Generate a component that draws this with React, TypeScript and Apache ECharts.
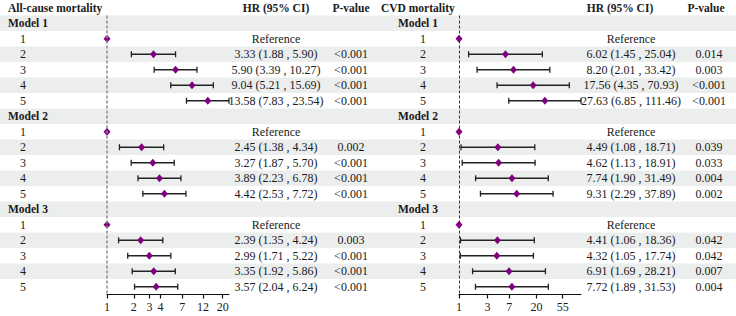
import React, { useEffect, useRef } from "react";
import * as echarts from "echarts";

// Hazard ratios by exposure group (1 = reference) for each adjustment model
const modelNames = ["Model 1", "Model 2", "Model 3"];
const groupLabels = ["1", "2", "3", "4", "5"];

const allCauseHR = [
  [1, 3.33, 5.9, 9.04, 13.58],
  [1, 2.45, 3.27, 3.89, 4.42],
  [1, 2.39, 2.99, 3.35, 3.57],
];
const allCauseLower = [
  [null, 1.88, 3.39, 5.21, 7.83],
  [null, 1.38, 1.87, 2.23, 2.53],
  [null, 1.35, 1.71, 1.92, 2.04],
];
const allCauseUpper = [
  [null, 5.9, 10.27, 15.69, 23.54],
  [null, 4.34, 5.7, 6.78, 7.72],
  [null, 4.24, 5.22, 5.86, 6.24],
];
const allCauseP = [
  ["", "<0.001", "<0.001", "<0.001", "<0.001"],
  ["", "0.002", "<0.001", "<0.001", "<0.001"],
  ["", "0.003", "<0.001", "<0.001", "<0.001"],
];

const cvdHR = [
  [1, 6.02, 8.2, 17.56, 27.63],
  [1, 4.49, 4.62, 7.74, 9.31],
  [1, 4.41, 4.32, 6.91, 7.72],
];
const cvdLower = [
  [null, 1.45, 2.01, 4.35, 6.85],
  [null, 1.08, 1.13, 1.9, 2.29],
  [null, 1.06, 1.05, 1.69, 1.89],
];
const cvdUpper = [
  [null, 25.04, 33.42, 70.93, 111.46],
  [null, 18.71, 18.91, 31.49, 37.89],
  [null, 18.36, 17.74, 28.21, 31.53],
];
const cvdP = [
  ["", "0.014", "0.003", "<0.001", "<0.001"],
  ["", "0.039", "0.033", "0.004", "0.002"],
  ["", "0.042", "0.042", "0.007", "0.004"],
];

const allCauseTicks = [1, 2, 3, 4, 7, 12, 20];
const cvdTicks = [1, 3, 7, 20, 55];

const FONT = '"Liberation Serif", "Times New Roman", serif';
const TEXT_COLOR = "#1a1a1a";
const STRIPE = "#eceeee";
const POINT_COLOR = "#800080";
const WIDTH = 736;
const ROW_COUNT = 19; // header + 3 × (model row + 5 groups)

type Cell = { x: number; row: number; text: string; align: string; bold?: boolean };

const rowOf = (m: number, k: number) => 2 + m * 6 + k;
const modelRow = (m: number) => 1 + m * 6;
const fmt = (v: number) => v.toFixed(2);

function buildPanel(
  hr: number[][],
  lo: (number | null)[][],
  hi: (number | null)[][],
  p: string[][],
  cols: { title: number; model: number; group: number; hr: number; hrHead: number; p: number; pHead: number },
  title: string
) {
  const cells: Cell[] = [
    { x: cols.title, row: 0, text: title, align: "left", bold: true },
    { x: cols.hrHead, row: 0, text: "HR (95% CI)", align: "center", bold: true },
    { x: cols.pHead, row: 0, text: "P-value", align: "center", bold: true },
  ];
  const points: number[][] = [];
  const ci: number[][] = [];
  modelNames.forEach((name, m) => {
    cells.push({ x: cols.model, row: modelRow(m), text: name, align: "left", bold: true });
    groupLabels.forEach((g, k) => {
      const r = rowOf(m, k);
      cells.push({ x: cols.group, row: r, text: g, align: "center" });
      const l = lo[m][k];
      const h = hi[m][k];
      const txt = l == null || h == null ? "Reference" : `${fmt(hr[m][k])} (${fmt(l)} , ${fmt(h)})`;
      cells.push({ x: cols.hr, row: r, text: txt, align: "center" });
      if (p[m][k]) cells.push({ x: cols.p, row: r, text: p[m][k], align: "center" });
      points.push([Math.log(hr[m][k]), r]);
      if (l != null && h != null) ci.push([Math.log(l), Math.log(h), r]);
    });
  });
  let maxUpper = 1;
  hi.forEach((rowVals) => rowVals.forEach((v) => { if (v != null && v > maxUpper) maxUpper = v; }));
  return { cells, points, ci, xMax: Math.log(maxUpper) };
}

const left = buildPanel(allCauseHR, allCauseLower, allCauseUpper, allCauseP,
  { title: 8, model: 8, group: 23, hr: 276, hrHead: 276, p: 351, pHead: 351 }, "All-cause mortality");
const right = buildPanel(cvdHR, cvdLower, cvdUpper, cvdP,
  { title: 381, model: 398, group: 423, hr: 631, hrHead: 620, p: 709, pHead: 706 }, "CVD mortality");

const tableCells = [...left.cells, ...right.cells];
const stripeRows: number[] = [];
for (let r = 1; r < ROW_COUNT; r += 2) stripeRows.push(r);

const ciRender = (color: string) => (params: any, api: any) => {
  const a = api.coord([api.value(0), api.value(2)]);
  const b = api.coord([api.value(1), api.value(2)]);
  const cap = 3;
  const style = { stroke: color, lineWidth: 1.3 };
  return {
    type: "group",
    children: [
      { type: "line", shape: { x1: a[0], y1: a[1], x2: b[0], y2: b[1] }, style },
      { type: "line", shape: { x1: a[0], y1: a[1] - cap, x2: a[0], y2: a[1] + cap }, style },
      { type: "line", shape: { x1: b[0], y1: b[1] - cap, x2: b[0], y2: b[1] + cap }, style },
    ],
  };
};

function xAxisFor(gridIndex: number, xMax: number, ticks: number[]) {
  const vals = ticks.map((t) => Math.log(t));
  return {
    type: "value",
    gridIndex,
    min: 0,
    max: xMax,
    splitLine: { show: false },
    axisLine: { show: true, lineStyle: { color: "#111", width: 1.2 } },
    axisTick: { show: true, length: 4, customValues: vals, lineStyle: { color: "#111", width: 1.2 } },
    axisLabel: {
      show: true,
      customValues: vals,
      margin: 6,
      fontFamily: FONT,
      fontSize: 12,
      color: TEXT_COLOR,
      formatter: (v: number) => String(Math.round(Math.exp(v))),
    },
  };
}

const plotY = (gridIndex: number) => ({
  type: "value",
  gridIndex,
  min: 0.5,
  max: ROW_COUNT - 0.5,
  inverse: true,
  show: false,
});

export default function App() {
  const ref = useRef<HTMLDivElement>(null);
  useEffect(() => {
    if (!ref.current) return;
    const chart = echarts.init(ref.current, null, { renderer: "svg" });
    const rowH = 15.5;
    const tableBottom = 316 - rowH * ROW_COUNT;
    chart.setOption({
      animation: false,
      backgroundColor: "#fff",
      grid: [
        { left: 0, right: 0, top: 0, bottom: tableBottom },
        { left: 107, width: 122, top: rowH, bottom: tableBottom },
        { left: 459, width: 122, top: rowH, bottom: tableBottom },
      ],
      xAxis: [
        { type: "value", gridIndex: 0, min: 0, max: WIDTH, show: false },
        xAxisFor(1, left.xMax, allCauseTicks),
        xAxisFor(2, right.xMax, cvdTicks),
      ],
      yAxis: [
        { type: "value", gridIndex: 0, min: -0.5, max: ROW_COUNT - 0.5, inverse: true, show: false },
        plotY(1),
        plotY(2),
      ],
      series: [
        {
          type: "custom",
          xAxisIndex: 0,
          yAxisIndex: 0,
          z: 0,
          silent: true,
          data: stripeRows.map((r) => [0, r]),
          renderItem: (params: any, api: any) => {
            const r = api.value(1);
            const a = api.coord([0, r - 0.5]);
            const b = api.coord([WIDTH, r + 0.5]);
            return {
              type: "rect",
              shape: { x: a[0], y: a[1], width: b[0] - a[0], height: b[1] - a[1] },
              style: { fill: STRIPE },
            };
          },
        },
        {
          type: "custom",
          xAxisIndex: 0,
          yAxisIndex: 0,
          z: 5,
          silent: true,
          data: tableCells.map((c) => [c.x, c.row]),
          renderItem: (params: any, api: any) => {
            const c = tableCells[params.dataIndex];
            const pt = api.coord([c.x, c.row]);
            return {
              type: "text",
              x: pt[0],
              y: pt[1],
              style: {
                text: c.text,
                align: c.align,
                verticalAlign: "middle",
                fontFamily: FONT,
                fontSize: c.bold ? 11.5 : 12,
                fontWeight: c.bold ? "bold" : "normal",
                fill: TEXT_COLOR,
              },
            };
          },
        },
        {
          type: "custom",
          xAxisIndex: 1,
          yAxisIndex: 1,
          z: 3,
          data: left.ci,
          renderItem: ciRender("#222"),
        },
        {
          type: "scatter",
          xAxisIndex: 1,
          yAxisIndex: 1,
          z: 4,
          symbol: "diamond",
          symbolSize: [7, 8],
          itemStyle: { color: POINT_COLOR, opacity: 1 },
          data: left.points,
          markLine: {
            silent: true,
            symbol: "none",
            label: { show: false },
            lineStyle: { type: [3, 2], color: "#8c8c8c", width: 1.5 },
            data: [{ xAxis: 0 }],
          },
        },
        {
          type: "custom",
          xAxisIndex: 2,
          yAxisIndex: 2,
          z: 3,
          data: right.ci,
          renderItem: ciRender("#222"),
        },
        {
          type: "scatter",
          xAxisIndex: 2,
          yAxisIndex: 2,
          z: 4,
          symbol: "diamond",
          symbolSize: [7, 8],
          itemStyle: { color: POINT_COLOR, opacity: 1 },
          data: right.points,
          markLine: {
            silent: true,
            symbol: "none",
            label: { show: false },
            lineStyle: { type: [3, 2], color: "#333", width: 1 },
            data: [{ xAxis: 0 }],
          },
        },
      ],
    });
    return () => chart.dispose();
  }, []);
  return (
    <div
      ref={ref}
      style={{ position: "fixed", left: 0, top: 0, width: WIDTH, height: 316, background: "#fff" }}
    />
  );
}
